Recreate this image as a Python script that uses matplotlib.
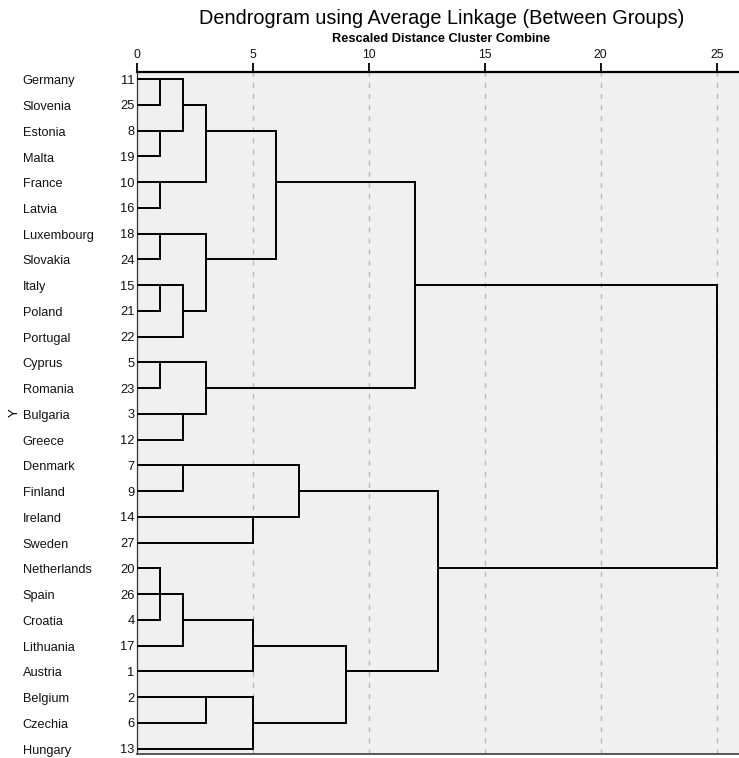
import matplotlib
matplotlib.use('Agg')
import matplotlib.pyplot as plt
import matplotlib.transforms as mtransforms

plt.rcParams['font.family'] = ['Liberation Sans', 'DejaVu Sans']

# leaf order as shown in the dendrogram (top to bottom)
countries = ['Germany', 'Slovenia', 'Estonia', 'Malta', 'France', 'Latvia',
             'Luxembourg', 'Slovakia', 'Italy', 'Poland', 'Portugal', 'Cyprus',
             'Romania', 'Bulgaria', 'Greece', 'Denmark', 'Finland', 'Ireland',
             'Sweden', 'Netherlands', 'Spain', 'Croatia', 'Lithuania', 'Austria',
             'Belgium', 'Czechia', 'Hungary']
case_ids = [11, 25, 8, 19, 10, 16, 18, 24, 15, 21, 22, 5, 23, 3, 12, 7, 9, 14,
            27, 20, 26, 4, 17, 1, 2, 6, 13]

# agglomeration steps: clusters named by their top row, rescaled distance
merge_a = [0, 2, 4, 6, 8, 11, 19, 19, 0, 8, 13, 15, 19, 0, 6, 11, 24,
           17, 19, 24, 0, 15, 19, 0, 15, 0]
merge_b = [1, 3, 5, 7, 9, 12, 20, 21, 2, 10, 14, 16, 22, 4, 8, 13, 25,
           18, 23, 26, 6, 17, 24, 11, 19, 15]
merge_dist = [1, 1, 1, 1, 1, 1, 1, 1, 2, 2, 2, 2, 2, 3, 3, 3, 3,
              5, 5, 5, 6, 7, 9, 12, 13, 25]

x_ticks = [0, 5, 10, 15, 20, 25]

fig = plt.figure(figsize=(7.39, 7.58), dpi=100)
ax = fig.add_axes([136.7 / 739, 4 / 758, (739 - 136.7) / 739, 682 / 758])
ax.set_facecolor('#f0f0f0')

n = len(countries)
ax.set_xlim(0, (739 - 136.7) / 23.2)
ax.set_ylim(n - 1 + 0.21, -0.28)

# grid
for t in x_ticks[1:]:
    ax.axvline(t, color='#b8b8b8', lw=1.0, dashes=(3.5, 4.5), zorder=1)

# SPSS style layout: merged cluster sits on the row at floor of the midpoint
pos = {i: i for i in range(n)}
height = {i: 0 for i in range(n)}
lw = 1.4
for a, b, d in zip(merge_a, merge_b, merge_dist):
    pa, pb = pos[a], pos[b]
    ax.plot([height[a], d], [pa, pa], color='black', lw=lw, solid_capstyle='butt', zorder=3)
    ax.plot([height[b], d], [pb, pb], color='black', lw=lw, solid_capstyle='butt', zorder=3)
    ax.plot([d, d], [pa, pb], color='black', lw=lw, solid_capstyle='projecting', zorder=3)
    pos[a] = (pa + pb) // 2
    height[a] = d
    del pos[b], height[b]

# axes styling
ax.xaxis.tick_top()
ax.set_xticks(x_ticks)
ax.set_xticklabels([str(t) for t in x_ticks])
ax.tick_params(axis='x', top=True, bottom=False, labeltop=True, labelbottom=False,
               length=6.5, width=1.3, color='black', pad=1.5, labelsize=8.8,
               labelcolor='#111111')

ax.set_yticks(range(n))
ax.set_yticklabels([str(c) for c in case_ids])
ax.tick_params(axis='y', length=0, pad=1.5, labelsize=9.3, labelcolor='#111111')

trans = mtransforms.blended_transform_factory(ax.transAxes, ax.transData)
for i, name in enumerate(countries):
    ax.text(-0.189, i + 0.08, name, transform=trans, ha='left', va='center',
            fontsize=9.2, color='#111111')

ax.set_ylabel('Y', fontsize=9.5)
ax.yaxis.set_label_coords(-0.192, 0.5)

ax.spines['right'].set_visible(False)
ax.spines['top'].set_linewidth(1.6)
ax.spines['top'].set_color('black')
ax.spines['left'].set_linewidth(0.9)
ax.spines['left'].set_color('#333333')
ax.spines['bottom'].set_linewidth(1.4)
ax.spines['bottom'].set_color('#555555')

fig.text(441.5 / 739, 1 - 18.5 / 758, 'Dendrogram using Average Linkage (Between Groups)',
         ha='center', va='center', fontsize=14.3)
fig.text(441.5 / 739, 1 - 38.5 / 758, 'Rescaled Distance Cluster Combine',
         ha='center', va='center', fontsize=9.2, fontweight='bold')

fig.savefig('out.png', dpi=100, facecolor='white')
